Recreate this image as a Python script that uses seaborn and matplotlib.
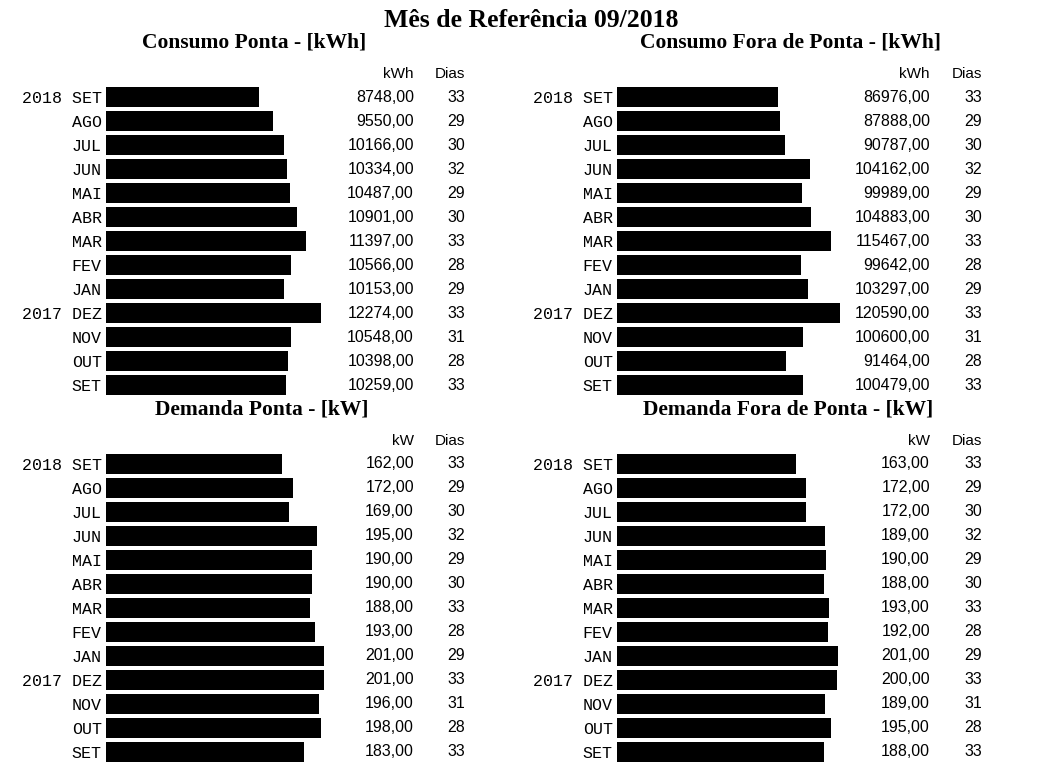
import matplotlib
matplotlib.use("Agg")
import matplotlib.pyplot as plt
import matplotlib.transforms as mtransforms
import seaborn as sns

anos = ["2018", "", "", "", "", "", "", "", "", "2017", "", "", ""]
meses = ["SET", "AGO", "JUL", "JUN", "MAI", "ABR", "MAR", "FEV", "JAN", "DEZ", "NOV", "OUT", "SET"]
dias = [33, 29, 30, 32, 29, 30, 33, 28, 29, 33, 31, 28, 33]

consumo_ponta = [8748, 9550, 10166, 10334, 10487, 10901, 11397, 10566, 10153, 12274, 10548, 10398, 10259]
consumo_fora = [86976, 87888, 90787, 104162, 99989, 104883, 115467, 99642, 103297, 120590, 100600, 91464, 100479]
demanda_ponta = [162, 172, 169, 195, 190, 190, 188, 193, 201, 201, 196, 198, 183]
demanda_fora = [163, 172, 172, 189, 190, 188, 193, 192, 201, 200, 189, 195, 188]

titulo = "Mês de Referência 09/2018"

W, H = 1052, 765


def fx(px):
    return px / W


def fy(px):
    return 1 - px / H


# category labels, "2018 SET" style; index keys keep the two SET rows apart
rotulos = [(a + " " + m).strip() for a, m in zip(anos, meses)]
cats = [f"{i:02d}" for i in range(len(meses))]

fig = plt.figure(figsize=(W / 100, H / 100), dpi=100)
fig.patch.set_facecolor("white")

serif = "Liberation Serif"
sans = "Liberation Sans"
mono = "Liberation Mono"

fig.text(fx(531), fy(27), titulo, ha="center", va="baseline",
         fontsize=18.5, fontweight="bold", family=serif)

# (values, title, unit, bar x0, bar width, title center, title baseline,
#  value right edge, dias right edge, first row center)
paineis = [
    (consumo_ponta, "Consumo Ponta - [kWh]", "kWh", 106, 215, 254, 48, 414, 465, 97),
    (consumo_fora, "Consumo Fora de Ponta - [kWh]", "kWh", 617, 223, 790, 48, 930, 982, 97),
    (demanda_ponta, "Demanda Ponta - [kW]", "kW", 106, 218, 262, 415, 414, 465, 464),
    (demanda_fora, "Demanda Fora de Ponta - [kW]", "kW", 617, 221, 788, 415, 930, 982, 464),
]

row = 24
for vals, tit, unidade, x0, larg, tx, ty, xv, xd, y0 in paineis:
    topo = y0 - row / 2
    base = topo + row * len(vals)
    ax = fig.add_axes([fx(x0), fy(base), larg / W, row * len(vals) / H])
    sns.barplot(x=vals, y=cats, orient="h", color="black", saturation=1,
                width=0.82, ax=ax)
    ax.set_xlim(0, max(vals))
    ax.set_ylim(len(vals) - 0.5, -0.5)
    for s in ax.spines.values():
        s.set_visible(False)
    ax.set_xticks([])
    ax.set_xlabel("")
    ax.set_ylabel("")
    ax.set_yticks(range(len(vals)))
    ax.set_yticklabels(rotulos, family=mono, fontsize=12)
    ax.tick_params(axis="y", length=0, pad=3)

    tr = mtransforms.blended_transform_factory(fig.transFigure, ax.transData)
    for i, (v, d) in enumerate(zip(vals, dias)):
        txt = f"{v:.2f}".replace(".", ",")
        ax.text(fx(xv), i, txt, transform=tr, ha="right", va="center",
                fontsize=11.5, family=sans)
        ax.text(fx(xd), i, str(d), transform=tr, ha="right", va="center",
                fontsize=11.5, family=sans)

    fig.text(fx(xv), fy(y0 - 23), unidade, ha="right", va="center",
             fontsize=11, family=sans)
    fig.text(fx(xd), fy(y0 - 23), "Dias", ha="right", va="center",
             fontsize=11, family=sans)
    fig.text(fx(tx), fy(ty), tit, ha="center", va="baseline",
             fontsize=15.5, fontweight="bold", family=serif)

fig.savefig("out.png", dpi=100, facecolor="white")
